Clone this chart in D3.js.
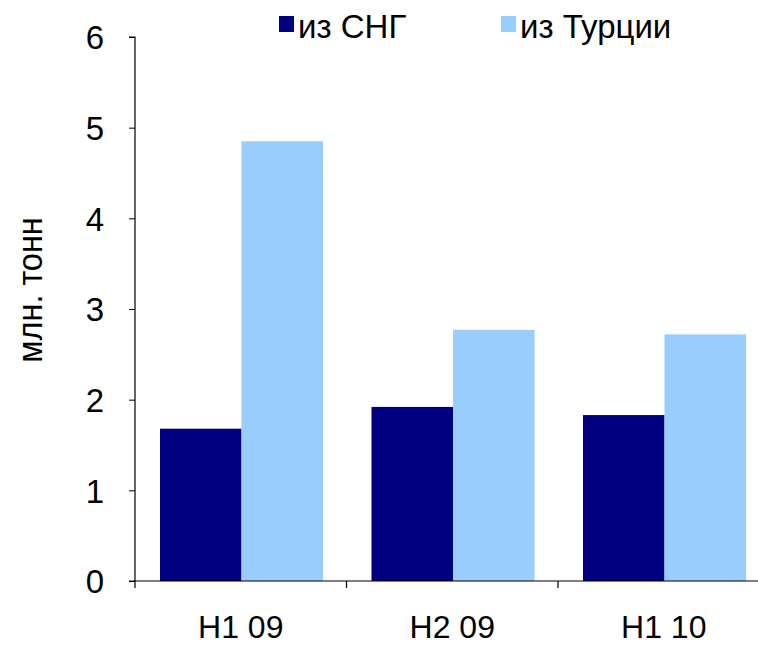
<!DOCTYPE html>
<html><head><meta charset="utf-8">
<script src="https://cdn.jsdelivr.net/npm/d3@7/dist/d3.min.js"></script>
<style>body{margin:0;background:#fff;} svg{display:block;font-family:"Liberation Sans",Arial,sans-serif;}</style>
</head><body>
<script>
const categories = ["H1 09", "H2 09", "H1 10"];
const seriesNames = ["из СНГ", "из Турции"];
const cisValues = [1.68, 1.92, 1.83];
const turkeyValues = [4.85, 2.77, 2.72];
const yTicks = [0, 1, 2, 3, 4, 5, 6];
const colors = ["#000080", "#99CCFF"];

const W = 758, H = 646;
const svg = d3.select("body").append("svg").attr("width", W).attr("height", H);
const x0 = 135, y0 = 581, yTop = 37;
const step = 211.5;
const x = d3.scaleBand().domain(categories).range([x0, x0 + step * categories.length]).paddingInner(0).paddingOuter(0);
const xs = d3.scaleBand().domain(seriesNames).range([25, 25 + 163]).padding(0);
const y = d3.scaleLinear().domain([0, 6]).range([y0, yTop]);

const data = categories.map((c, i) => ({cat: c, vals: [cisValues[i], turkeyValues[i]]}));
const g = svg.append("g");
g.selectAll("g.grp").data(data).join("g").attr("class", "grp")
  .attr("transform", d => `translate(${x(d.cat)},0)`)
  .selectAll("rect").data(d => d.vals.map((v, j) => ({v, s: seriesNames[j], j})))
  .join("rect")
  .attr("x", d => xs(d.s)).attr("width", xs.bandwidth())
  .attr("y", d => y(d.v)).attr("height", d => y(0) - y(d.v))
  .attr("fill", d => colors[d.j]);

// y axis
const ya = svg.append("g").attr("transform", `translate(${x0},0)`)
  .call(d3.axisLeft(y).tickValues(yTicks).tickFormat(d3.format("d")).tickSize(6).tickPadding(25));
ya.select(".domain").attr("stroke", "#000").attr("stroke-width", 1.2).attr("d", `M-6,${yTop}H0V${y0}`);
ya.selectAll("text").attr("font-size", 33).attr("fill", "#000").attr("dy", "0.36em").attr("font-family", "Liberation Sans, Arial, sans-serif");

// x axis
const xa = svg.append("g").attr("transform", `translate(0,${y0})`)
  .call(d3.axisBottom(x).tickSize(0).tickPadding(34));
xa.select(".domain").attr("stroke", "#000").attr("stroke-width", 1.2).attr("d", `M${x0 - 6},0H${x0 + step * 3}`);
xa.selectAll("text").attr("font-size", 32).attr("fill", "#000").attr("font-family", "Liberation Sans, Arial, sans-serif");
const tickPos = d3.range(categories.length + 1).map(i => x0 + i * step);
xa.selectAll("line.sep").data(tickPos).join("line").attr("class", "sep")
  .attr("x1", d => d).attr("x2", d => d).attr("y1", 0).attr("y2", 7)
  .attr("stroke", "#000").attr("stroke-width", 1.2);

// y title
svg.append("text").attr("transform", `translate(42,290) rotate(-90) scale(0.9,1)`)
  .attr("text-anchor", "middle").attr("font-size", 36).text("млн. тонн");

// legend
const leg = svg.append("g");
const legX = [279, 501];
seriesNames.forEach((s, i) => {
  leg.append("rect").attr("x", legX[i]).attr("y", 16).attr("width", 15).attr("height", 16).attr("fill", colors[i]);
  leg.append("text").attr("x", legX[i] + 19).attr("y", 38).attr("font-size", 33).text(s);
});
</script>
</body></html>
